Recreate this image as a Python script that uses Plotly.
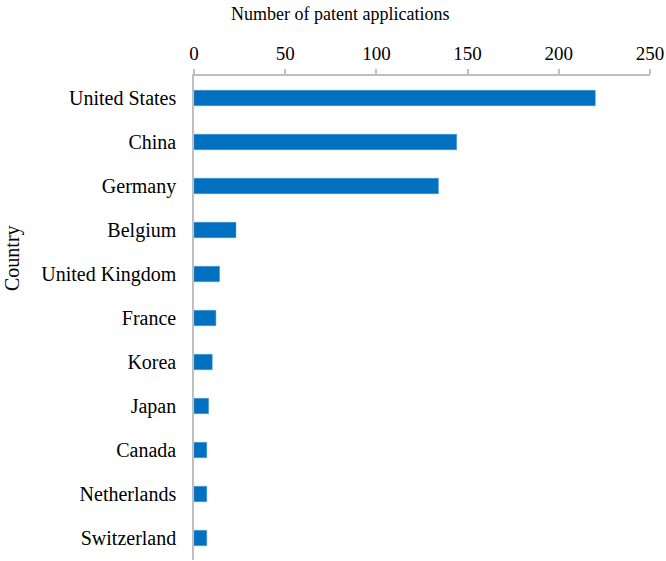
import plotly.graph_objects as go

countries = ["United States", "China", "Germany", "Belgium", "United Kingdom", "France",
             "Korea", "Japan", "Canada", "Netherlands", "Switzerland"]
applications = [220, 144, 134, 23, 14, 12, 10, 8, 7, 7, 7]
x_ticks = [0, 50, 100, 150, 200, 250]

FONT = "Liberation Serif, Times New Roman, serif"
AXIS_GRAY = "#BFBFBF"

L, R, T, B = 194, 16, 76, 1
W, H = 666, 561

fig = go.Figure(go.Bar(
    x=applications, y=countries, orientation="h",
    marker=dict(color="#0070C0", line=dict(color="#4A90D0", width=0.5)),
    width=0.35,
))

fig.update_layout(
    width=W, height=H,
    margin=dict(l=L, r=R, t=T, b=B),
    paper_bgcolor="white", plot_bgcolor="white",
    font=dict(family=FONT, size=20, color="#000000"),
    showlegend=False,
)
fig.update_xaxes(
    side="top", range=[0, 250], tickvals=x_ticks, ticktext=[str(v) for v in x_ticks],
    showgrid=False, zeroline=False, showline=True, linecolor=AXIS_GRAY, linewidth=1.5,
    ticks="outside", ticklen=5, tickcolor=AXIS_GRAY, tickwidth=1.5,
    tickfont=dict(family=FONT, size=19), automargin=False, ticklabelstandoff=2,
)
fig.update_yaxes(
    categoryorder="array", categoryarray=countries, autorange="reversed",
    showgrid=False, zeroline=False, showline=True, linecolor=AXIS_GRAY, linewidth=1.5,
    ticks="", ticklabelstandoff=12, automargin=False,
    tickfont=dict(family=FONT, size=20),
)
fig.add_annotation(text="Number of patent applications", xref="paper", yref="paper",
                   x=(340 - L) / (W - L - R), y=1, yshift=T - 14, showarrow=False,
                   font=dict(family=FONT, size=18), xanchor="center", yanchor="middle")
fig.add_annotation(text="Country", xref="paper", yref="paper",
                   x=0, xshift=-(L - 12), y=(H - B - 258) / (H - T - B), textangle=-90,
                   showarrow=False, font=dict(family=FONT, size=20),
                   xanchor="center", yanchor="middle")

fig.write_html("out.html", config={"displayModeBar": False},
               post_script="document.body.style.margin='0';document.body.style.overflow='hidden';")
